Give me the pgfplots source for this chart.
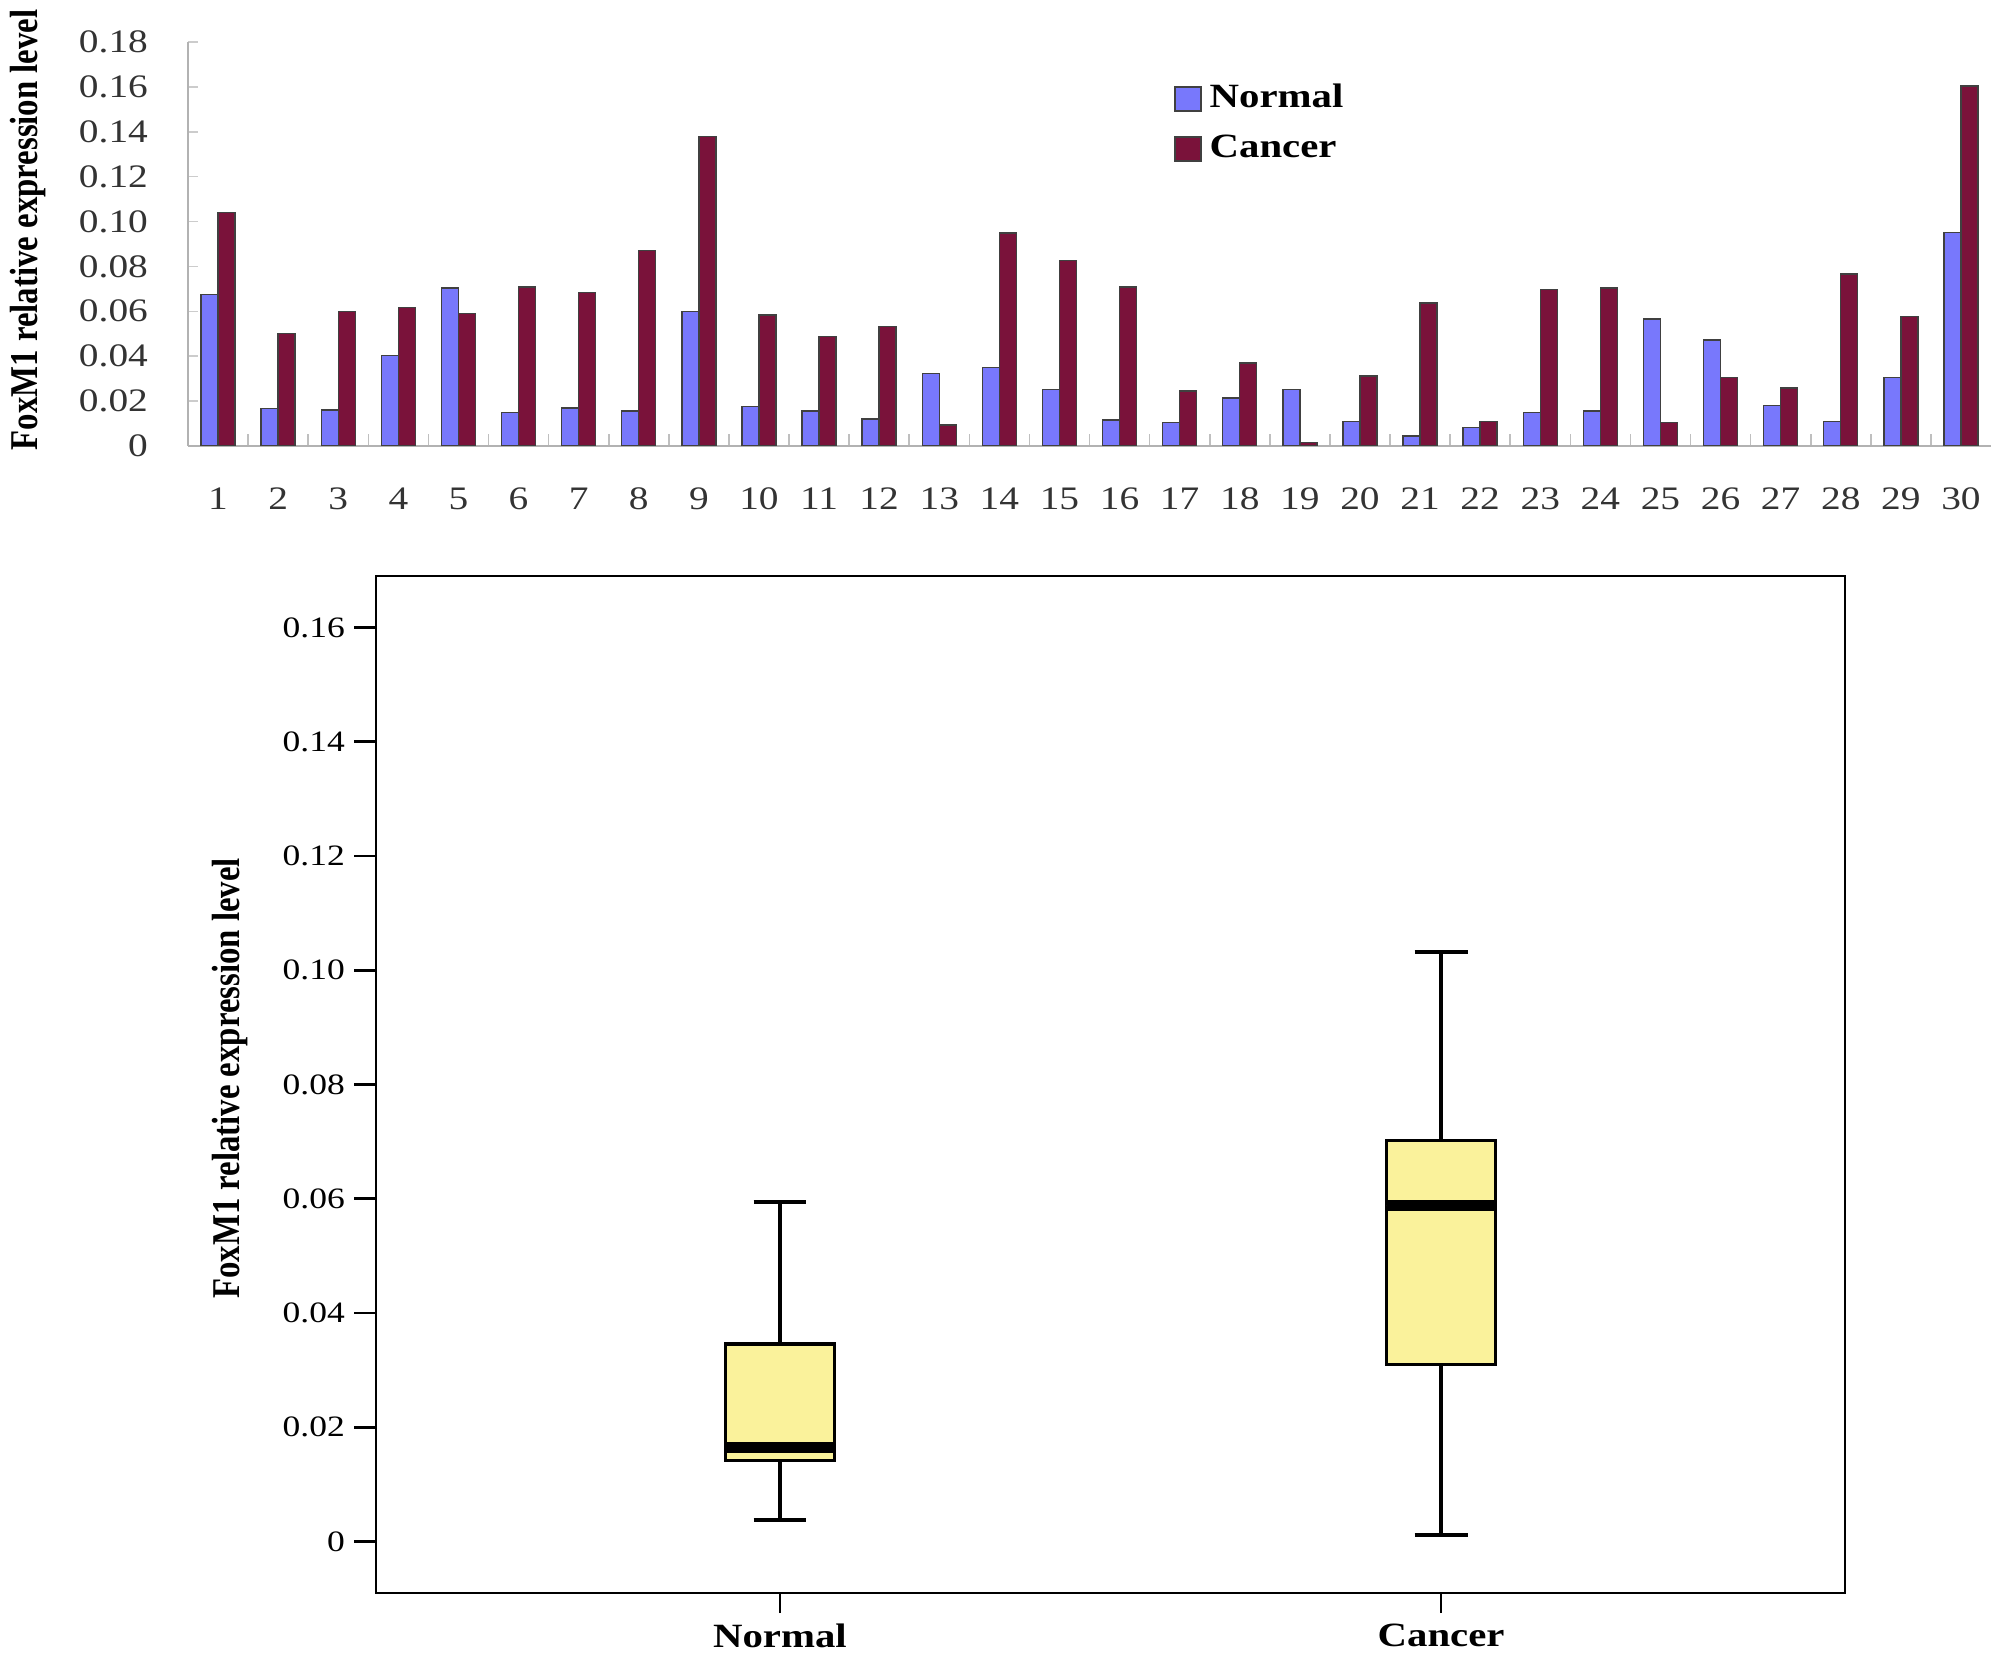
\documentclass[border=0pt]{standalone}
\usepackage{graphicx}
\usepackage{fontspec}
\setmainfont[FakeStretch=1.2]{Liberation Serif}
\newfontfamily\plainserif{Liberation Serif}
\usepackage{pgfplots}
\usepackage{pgfplotstable}
\pgfplotsset{compat=1.18}
\usepgfplotslibrary{statistics}
\definecolor{nblue}{RGB}{120,120,252}
\definecolor{cred}{RGB}{122,18,58}
\definecolor{boxy}{RGB}{250,242,155}

\pgfplotstableread{
x N C
1 0.0675 0.1040
2 0.0166 0.0500
3 0.0161 0.0600
4 0.0402 0.0617
5 0.0703 0.0590
6 0.0148 0.0708
7 0.0169 0.0684
8 0.0155 0.0872
9 0.0600 0.1380
10 0.0176 0.0584
11 0.0155 0.0488
12 0.0120 0.0533
13 0.0322 0.0093
14 0.0350 0.0949
15 0.0252 0.0827
16 0.0116 0.0708
17 0.0105 0.0245
18 0.0214 0.0369
19 0.0252 0.0015
20 0.0108 0.0312
21 0.0044 0.0637
22 0.0083 0.0108
23 0.0149 0.0696
24 0.0155 0.0703
25 0.0566 0.0105
26 0.0473 0.0304
27 0.0181 0.0259
28 0.0108 0.0767
29 0.0304 0.0578
30 0.0952 0.1604
}\bardata

\begin{document}
\begin{tikzpicture}
\useasboundingbox (0,0) rectangle (502pt,414.25pt);
% ---------- top bar chart ----------
\begin{axis}[
  at={(47pt,302.75pt)}, anchor=south west,
  scale only axis, width=450.75pt, height=101pt,
  xmin=0.5, xmax=30.5, ymin=0, ymax=0.18,
  ybar=0pt, bar width=4.25pt,
  axis x line*=bottom, axis y line*=left,
  axis line style={-, draw=black!30, line width=0.5pt},
  /pgf/number format/assume math mode=true,
  xtick={1,...,30},
  major x tick style={draw=none},
  minor xtick={1.5,2.5,...,29.5},
  minor tick length=3pt,
  minor x tick style={draw=black!25, line width=0.4pt},
  ytick={0,0.02,0.04,0.06,0.08,0.10,0.12,0.14,0.16,0.18},
  yticklabels={0,0.02,0.04,0.06,0.08,0.10,0.12,0.14,0.16,0.18},
  major y tick style={draw=black!20, line width=0.4pt},
  major tick length=2.5pt,
  tick align=inside,
  ticklabel style={font=\fontsize{8.2}{9}\selectfont, text=black!80},
  yticklabel style={xshift=-6.5pt},
  xticklabel style={yshift=-7pt},
  ylabel={\scalebox{1}[1.2]{\plainserif\bfseries\fontsize{8.2}{9}\selectfont FoxM1 relative expression level}},
  ylabel style={at={(axis description cs:-0.0887,0.535)}, anchor=center},
  legend image code/.code={\draw[#1] (0pt,-3pt) rectangle (6.5pt,3pt);},
  legend style={at={(axis description cs:0.547,0.915)}, anchor=north west,
    draw=none, fill=none, font=\bfseries\fontsize{8.5}{9}\selectfont,
    row sep=1.2pt, inner sep=0pt, outer sep=0pt},
  legend cell align=left,
]
\addplot[fill=nblue, draw=black!75, line width=0.35pt] table[x=x,y=N]{\bardata};
\addplot[fill=cred, draw=black!75, line width=0.35pt] table[x=x,y=C]{\bardata};
\legend{Normal,Cancer}
\end{axis}
% ---------- bottom box plot ----------
\begin{axis}[
  at={(94pt,16pt)}, anchor=south west,
  scale only axis, width=367.25pt, height=254.25pt,
  xmin=0.389, xmax=2.611, ymin=-0.009, ymax=0.169,
  axis line style={line width=0.7pt},
  /pgf/number format/assume math mode=true,
  xtick={1,2}, xticklabels={Normal,Cancer},
  xticklabel style={font=\bfseries\fontsize{8.5}{9}\selectfont},
  ytick={0,0.02,0.04,0.06,0.08,0.10,0.12,0.14,0.16},
  yticklabels={0,0.02,0.04,0.06,0.08,0.10,0.12,0.14,0.16},
  yticklabel style={font=\fontsize{7.4}{8}\selectfont},
  xtick pos=bottom, ytick pos=left,
  tick align=outside,
  major tick style={line width=0.7pt, black},
  major x tick style={line width=0.6pt},
  x tick style={/pgfplots/major tick length=5pt},
  y tick style={/pgfplots/major tick length=5.5pt},
  ylabel={\scalebox{1}[1.2]{\plainserif\bfseries\fontsize{8.2}{9}\selectfont FoxM1 relative expression level}},
  ylabel style={at={(axis description cs:-0.0994,0.506)}, anchor=center},
  boxplot/draw direction=y,
  boxplot/every median/.append style={line width=2.75pt},
  boxplot/every whisker/.append style={line width=1pt},
  boxplot/every box/.append style={line width=0.9pt},
]
\addplot+[boxplot prepared={draw position=1, lower whisker=0.0038, lower quartile=0.0142,
   median=0.0164, upper quartile=0.0346, upper whisker=0.0595,
   box extend=0.165, whisker extend=0.08},
   draw=black, fill=boxy, solid, mark=none] coordinates {};
\addplot+[boxplot prepared={draw position=2, lower whisker=0.0012, lower quartile=0.0310,
   median=0.0588, upper quartile=0.0702, upper whisker=0.1032,
   box extend=0.165, whisker extend=0.08},
   draw=black, fill=boxy, solid, mark=none] coordinates {};
\end{axis}
\end{tikzpicture}
\end{document}
